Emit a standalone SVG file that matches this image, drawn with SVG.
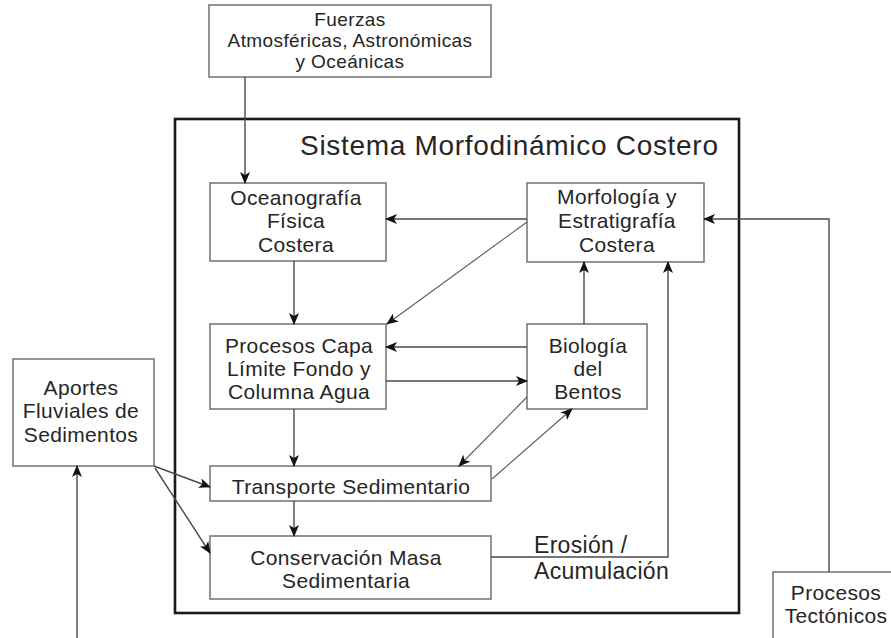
<svg xmlns="http://www.w3.org/2000/svg" width="891" height="638" viewBox="0 0 891 638">
<defs>
<style>
.box{fill:#fff;stroke:#7a7a7a;stroke-width:1.6}
.outer{fill:none;stroke:#1a1a1a;stroke-width:2.6}
.t{font-family:"Liberation Sans",Arial,sans-serif;font-size:21px;letter-spacing:0.35px;fill:#262626;text-anchor:middle}
.c{fill:none;stroke:#4a4a4a;stroke-width:1.4}
.cd{fill:none;stroke:#5a5a5a;stroke-width:1.1}
</style>
<marker id="ah" viewBox="0 0 12 10" refX="11" refY="5" markerWidth="12" markerHeight="10" markerUnits="userSpaceOnUse" orient="auto">
<path d="M0,0 L12,5 L0,10 L3,5 z" fill="#111"/>
</marker>
</defs>
<rect width="891" height="638" fill="#fff"/>

<g id="sistema">
<rect class="outer" x="175" y="119" width="564" height="494"/>
<text x="300" y="155" style="font-family:'Liberation Sans',Arial,sans-serif;font-size:28px;letter-spacing:0.7px;fill:#262626">Sistema Morfodinámico Costero</text>
</g>

<g id="fuerzas">
<rect class="box" x="209" y="5" width="282" height="72"/>
<text class="t" style="font-size:19px;letter-spacing:0.4px" x="350" y="26">Fuerzas</text>
<text class="t" style="font-size:19px;letter-spacing:0.4px" x="350" y="47">Atmosféricas, Astronómicas</text>
<text class="t" style="font-size:19px;letter-spacing:0.4px" x="350" y="68">y Oceánicas</text>
</g>

<g id="oceanografia">
<rect class="box" x="210" y="183" width="176" height="78"/>
<text class="t" x="296" y="205">Oceanografía</text>
<text class="t" x="296" y="228">Física</text>
<text class="t" x="296" y="252">Costera</text>
</g>

<g id="morfologia">
<rect class="box" x="527" y="183" width="177" height="79"/>
<text class="t" x="617" y="204">Morfología y</text>
<text class="t" x="617" y="228">Estratigrafía</text>
<text class="t" x="617" y="252">Costera</text>
</g>

<g id="procesos-capa">
<rect class="box" x="210" y="324" width="176" height="85"/>
<text class="t" x="299" y="353">Procesos Capa</text>
<text class="t" x="299" y="376">Límite Fondo y</text>
<text class="t" x="299" y="399">Columna Agua</text>
</g>

<g id="biologia">
<rect class="box" x="527" y="324" width="120" height="85"/>
<text class="t" x="588" y="353">Biología</text>
<text class="t" x="588" y="376">del</text>
<text class="t" x="588" y="399">Bentos</text>
</g>

<g id="transporte">
<rect class="box" x="210" y="466" width="281" height="35"/>
<text class="t" x="351" y="494">Transporte Sedimentario</text>
</g>

<g id="conservacion">
<rect class="box" x="210" y="536" width="281" height="63"/>
<text class="t" x="346" y="565">Conservación Masa</text>
<text class="t" x="346" y="588">Sedimentaria</text>
</g>

<g id="aportes">
<rect class="box" x="13" y="359" width="141" height="107"/>
<text class="t" x="81" y="395">Aportes</text>
<text class="t" x="81" y="418">Fluviales de</text>
<text class="t" x="81" y="442">Sedimentos</text>
</g>

<g id="tectonicos">
<rect class="box" x="773" y="572" width="130" height="80"/>
<text class="t" x="836" y="600">Procesos</text>
<text class="t" x="836" y="623">Tectónicos</text>
</g>

<g id="connectors">
<line class="c" x1="245" y1="77" x2="245" y2="183" marker-end="url(#ah)"/>
<line class="c" x1="527" y1="219" x2="386" y2="219" marker-end="url(#ah)"/>
<line class="cd" x1="527" y1="222" x2="387" y2="324" marker-end="url(#ah)"/>
<line class="c" x1="294" y1="261" x2="294" y2="324" marker-end="url(#ah)"/>
<line class="c" x1="527" y1="347" x2="386" y2="347" marker-end="url(#ah)"/>
<line class="c" x1="386" y1="381" x2="527" y2="381" marker-end="url(#ah)"/>
<line class="c" x1="584" y1="324" x2="584" y2="262" marker-end="url(#ah)"/>
<line class="c" x1="294" y1="409" x2="294" y2="466" marker-end="url(#ah)"/>
<line class="cd" x1="527" y1="397" x2="459" y2="466" marker-end="url(#ah)"/>
<line class="cd" x1="492" y1="479" x2="572" y2="409" marker-end="url(#ah)"/>
<line class="c" x1="294" y1="501" x2="294" y2="536" marker-end="url(#ah)"/>
<line class="c" x1="154" y1="466" x2="210" y2="487" marker-end="url(#ah)"/>
<line class="c" x1="155" y1="468" x2="210" y2="553" marker-end="url(#ah)"/>
<polyline class="c" points="491,557 668,557 668,262" marker-end="url(#ah)"/>
<polyline class="c" points="829,572 829,219 704,219" marker-end="url(#ah)"/>
<line class="c" x1="77" y1="640" x2="77" y2="466" marker-end="url(#ah)"/>
<text x="534" y="553" style="font-family:'Liberation Sans',Arial,sans-serif;font-size:23px;letter-spacing:0.3px;fill:#262626">Erosión /</text>
<text x="534" y="579" style="font-family:'Liberation Sans',Arial,sans-serif;font-size:23px;letter-spacing:0.3px;fill:#262626">Acumulación</text>
</g>
</svg>
